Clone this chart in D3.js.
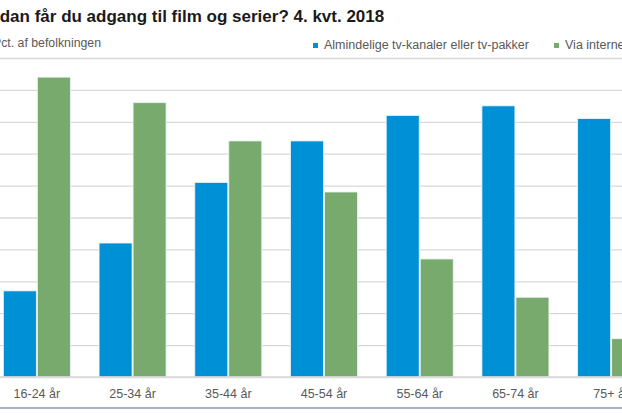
<!DOCTYPE html>
<html>
<head>
<meta charset="utf-8">
<script src="https://cdn.jsdelivr.net/npm/d3@7"></script>
<style>
    html, body { margin: 0; padding: 0; background: #fff; overflow: hidden; }
    svg { display: block; font-family: "Liberation Sans", Arial, sans-serif; }
</style>
</head>
<body>
<div id="chart"></div>
<script>
'use strict';

// age groups along the x axis
const categories = ["16-24 år", "25-34 år", "35-44 år", "45-54 år", "55-64 år", "65-74 år", "75+ år"];
// series names, as in the legend
const seriesNames = ["Almindelige tv-kanaler eller tv-pakker", "Via internettet"];
// pct. of the population
const tvValues = [27, 42, 61, 74, 82, 85, 81];
const internetValues = [94, 86, 74, 58, 37, 25, 12];
// gridlines every 10 pct.
const yTicks = [0, 10, 20, 30, 40, 50, 60, 70, 80, 90, 100];

const colors = ["#0090d6", "#78aa6e"];
const width = 622, height = 415;

const svg = d3.select("#chart").append("svg")
    .attr("width", width)
    .attr("height", height);

// the original chart runs past the left and right edge of the crop
const x0 = d3.scaleBand()
    .domain(categories)
    .range([-11, 659])
    .paddingInner(0.3)
    .paddingOuter(0.15);

const x1 = d3.scaleBand()
    .domain(seriesNames)
    .range([0, x0.bandwidth()])
    .paddingInner(0.03);

const y = d3.scaleLinear()
    .domain([0, 100])
    .range([377, 58]);

// gridlines
const yAxis = d3.axisLeft(y)
    .tickValues(yTicks)
    .tickSize(-width)
    .tickFormat("");

svg.append("g")
    .attr("class", "grid")
    .call(yAxis)
    .call(g => g.select(".domain").remove())
    .call(g => g.selectAll(".tick line")
        .attr("x1", 0)
        .attr("x2", width)
        .attr("stroke", "#d9d9d9")
        .attr("stroke-width", 1.3));

// bars
const rows = categories.map((c, i) => ({ cat: c, values: [tvValues[i], internetValues[i]] }));

svg.append("g")
    .selectAll("g")
    .data(rows)
    .join("g")
    .attr("transform", d => `translate(${x0(d.cat)},0)`)
    .selectAll("rect")
    .data(d => d.values.map((v, i) => ({ key: seriesNames[i], value: v, color: colors[i] })))
    .join("rect")
    .attr("x", d => x1(d.key))
    .attr("width", x1.bandwidth())
    .attr("y", d => y(d.value))
    .attr("height", d => y(0) - y(d.value))
    .attr("fill", d => d.color)
    .attr("stroke", "#eef3f6")
    .attr("stroke-width", 0.8);

// category axis
const xAxis = d3.axisBottom(x0).tickSize(0).tickPadding(12);
svg.append("g")
    .attr("transform", `translate(0,${y(0)})`)
    .call(xAxis)
    .call(g => g.select(".domain").remove())
    .call(g => g.selectAll("text")
        .attr("fill", "#595959")
        .style("font-size", "12.5px")
        .style("font-family", "'Liberation Sans', Arial, sans-serif"));

// baseline
svg.append("line")
    .attr("x1", 0).attr("x2", width)
    .attr("y1", y(0)).attr("y2", y(0))
    .attr("stroke", "#d9d9d9")
    .attr("stroke-width", 1.5);

// bottom frame line
svg.append("line")
    .attr("x1", 0).attr("x2", width)
    .attr("y1", 408).attr("y2", 408)
    .attr("stroke", "#8c9db2")
    .attr("stroke-width", 1.6);

// title
svg.append("text")
    .attr("x", -39)
    .attr("y", 22)
    .attr("fill", "#1a1a1a")
    .style("font-size", "17px")
    .style("font-weight", "bold")
    .text("Hvordan får du adgang til film og serier? 4. kvt. 2018");

// y label
svg.append("text")
    .attr("x", -7)
    .attr("y", 47)
    .attr("fill", "#595959")
    .style("font-size", "12.3px")
    .text("Pct. af befolkningen");

// legend
const legendX = [313, 554];
const legend = svg.append("g")
    .selectAll("g")
    .data(seriesNames)
    .join("g")
    .attr("transform", (d, i) => `translate(${legendX[i]},42)`);

legend.append("rect")
    .attr("width", 5)
    .attr("height", 5)
    .attr("y", 1)
    .attr("fill", (d, i) => colors[i]);

legend.append("text")
    .attr("x", 11)
    .attr("y", 7)
    .attr("fill", "#595959")
    .style("font-size", "12.5px")
    .text(d => d);
</script>
</body>
</html>
